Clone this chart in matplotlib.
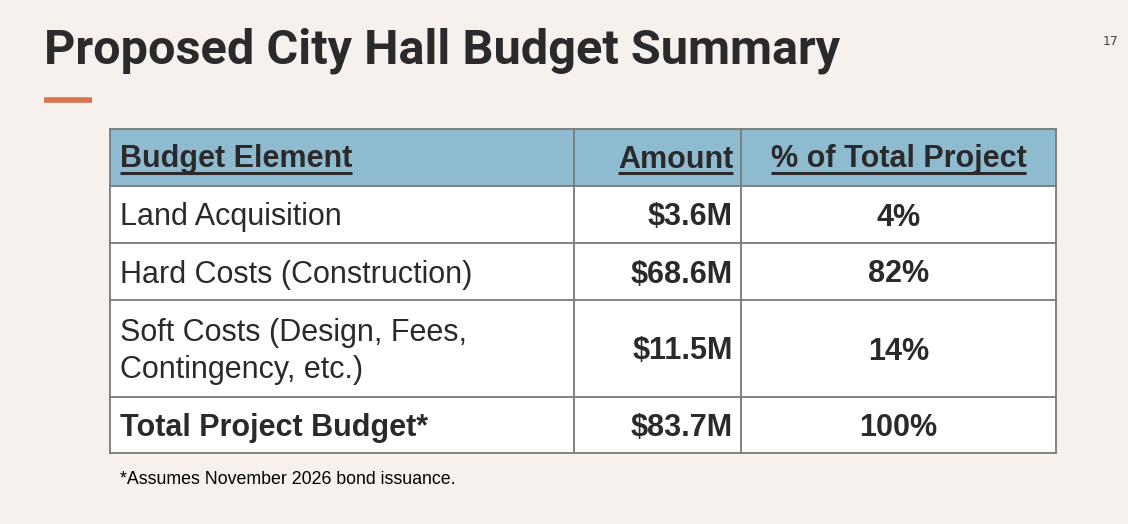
import matplotlib.pyplot as plt
from matplotlib.patches import Rectangle

headers = ["Budget Element", "Amount", "% of Total Project"]
elements = ["Land Acquisition", "Hard Costs (Construction)",
            "Soft Costs (Design, Fees,\nContingency, etc.)", "Total Project Budget*"]
amounts = ["$3.6M", "$68.6M", "$11.5M", "$83.7M"]
percents = ["4%", "82%", "14%", "100%"]

title = "Proposed City Hall Budget Summary"
footnote = "*Assumes November 2026 bond issuance."
page_no = "17"

bg = "#F6F1EC"
head_fill = "#8FBBD0"
ink = "#2A2A2C"
edge = "#7A7A7A"

col_x = [110, 574, 741, 1056]
row_y = [129, 186, 243, 300, 397, 453]

fig = plt.figure(figsize=(11.28, 5.24), dpi=100, facecolor=bg)
ax = fig.add_axes([0, 0, 1, 1])
ax.set_xlim(0, 1128)
ax.set_ylim(524, 0)
ax.axis("off")

ax.text(44, 63, title, fontsize=35, fontweight="bold", color=ink,
        family="Roboto", va="baseline")
ax.plot([44, 92], [100, 100], color="#D9744A", lw=4, solid_capstyle="butt")
ax.text(1119, 45, page_no, fontsize=9, color="#444444", ha="right", va="baseline")

# cell backgrounds
ax.add_patch(Rectangle((col_x[0], row_y[0]), col_x[-1] - col_x[0], row_y[1] - row_y[0],
                       facecolor=head_fill, edgecolor="none"))
ax.add_patch(Rectangle((col_x[0], row_y[1]), col_x[-1] - col_x[0], row_y[-1] - row_y[1],
                       facecolor="white", edgecolor="none"))
for y in row_y:
    ax.plot([col_x[0], col_x[-1]], [y, y], color=edge, lw=1.3)
for x in col_x:
    ax.plot([x, x], [row_y[0], row_y[-1]], color=edge, lw=1.3)

fs = 22
font = "Liberation Sans"
header_txt = []
hy = (row_y[0] + row_y[1]) / 2 + 10
header_txt.append(ax.text(col_x[0] + 10, hy, headers[0], fontsize=fs, fontweight="bold",
                          color=ink, family=font, va="baseline"))
header_txt.append(ax.text(col_x[2] - 8, hy, headers[1], fontsize=fs, fontweight="bold",
                          color=ink, family=font, va="baseline", ha="right"))
header_txt.append(ax.text((col_x[2] + col_x[3]) / 2, hy, headers[2], fontsize=fs,
                          fontweight="bold", color=ink, family=font, va="baseline", ha="center"))

for i, (el, am, pc) in enumerate(zip(elements, amounts, percents)):
    mid = (row_y[i + 1] + row_y[i + 2]) / 2
    base = mid + 11
    w = "bold" if i == len(elements) - 1 else "normal"
    if "\n" in el:
        ax.text(col_x[0] + 10, mid + 3, el, fontsize=fs, fontweight=w, color=ink,
                family=font, va="center", linespacing=1.3)
    else:
        ax.text(col_x[0] + 10, base, el, fontsize=fs, fontweight=w, color=ink,
                family=font, va="baseline")
    ax.text(col_x[2] - 8, base, am, fontsize=fs, fontweight="bold", color=ink, family=font,
            va="baseline", ha="right")
    ax.text((col_x[2] + col_x[3]) / 2, base, pc, fontsize=fs, fontweight="bold", color=ink,
            family=font, va="baseline", ha="center")

ax.text(120, 484, footnote, fontsize=12.8, color="black", family=font, va="baseline")

# underline the header labels
fig.canvas.draw()
r = fig.canvas.get_renderer()
inv = ax.transData.inverted()
for t in header_txt:
    bb = t.get_window_extent(r)
    (x0, _), (x1, _) = inv.transform([(bb.x0, bb.y0), (bb.x1, bb.y1)])
    ax.plot([x0, x1], [173, 173], color=ink, lw=2.2, solid_capstyle="butt")

fig.savefig("out.png", dpi=100, facecolor=bg)
